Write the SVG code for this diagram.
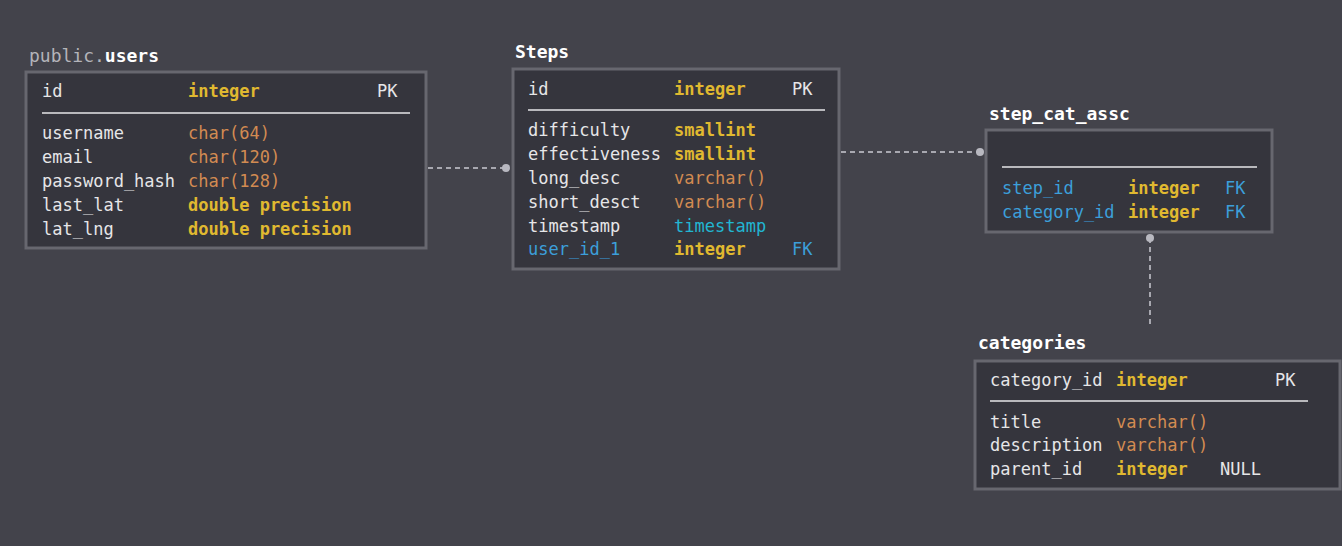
<svg xmlns="http://www.w3.org/2000/svg" width="1342" height="546" viewBox="0 0 1342 546">
<style>
text{font-family:"DejaVu Sans Mono","Liberation Mono",monospace;font-size:17px;fill:#e6e6e8}
.t{font-weight:bold;font-size:18px;fill:#ffffff}
.g{fill:#b4b4ba;font-weight:normal}
.y{fill:#e0b930;font-weight:bold}.o{fill:#d28b52}.c{fill:#22b6d2}.b{fill:#3c9fda}
.box{fill:#35353d;stroke:#67676f;stroke-width:3}
.sep{stroke:#e6e6e8;stroke-width:1.5}
.con{stroke:#a8a8b0;stroke-width:2;stroke-dasharray:5 4;fill:none}
.dot{fill:#b8b8c0}
</style>
<rect width="1342" height="546" fill="#43434b"/>
<g id="connectors">
<path class="con" d="M428 168H506"/><circle class="dot" cx="506" cy="168" r="4"/>
<path class="con" d="M841 152H980"/><circle class="dot" cx="980" cy="152" r="4"/>
<path class="con" d="M1150 238V325"/><circle class="dot" cx="1150" cy="238" r="4"/>
</g>
<g id="users">
<text x="29" y="62" class="t"><tspan class="g">public.</tspan>users</text>
<rect class="box" x="26" y="72" width="400" height="176"/>
<text x="42" y="97">id</text><text x="188" y="97" class="y">integer</text><text x="377" y="97">PK</text>
<line class="sep" x1="42" y1="113" x2="410" y2="113"/>
<text x="42" y="139">username</text><text x="188" y="139" class="o">char(64)</text>
<text x="42" y="163">email</text><text x="188" y="163" class="o">char(120)</text>
<text x="42" y="187">password_hash</text><text x="188" y="187" class="o">char(128)</text>
<text x="42" y="211">last_lat</text><text x="188" y="211" class="y">double precision</text>
<text x="42" y="235">lat_lng</text><text x="188" y="235" class="y">double precision</text>
</g>
<g id="steps">
<text x="515" y="58" class="t">Steps</text>
<rect class="box" x="513" y="69" width="326" height="200"/>
<text x="528" y="95">id</text><text x="674" y="95" class="y">integer</text><text x="792" y="95">PK</text>
<line class="sep" x1="528" y1="110" x2="825" y2="110"/>
<text x="528" y="136">difficulty</text><text x="674" y="136" class="y">smallint</text>
<text x="528" y="160">effectiveness</text><text x="674" y="160" class="y">smallint</text>
<text x="528" y="184">long_desc</text><text x="674" y="184" class="o">varchar()</text>
<text x="528" y="208">short_desct</text><text x="674" y="208" class="o">varchar()</text>
<text x="528" y="232">timestamp</text><text x="674" y="232" class="c">timestamp</text>
<text x="528" y="255" class="b">user_id_1</text><text x="674" y="255" class="y">integer</text><text x="792" y="255" class="b">FK</text>
</g>
<g id="step_cat_assc">
<text x="989" y="120" class="t">step_cat_assc</text>
<rect class="box" x="986" y="130" width="286" height="102"/>
<line class="sep" x1="1002" y1="167" x2="1257" y2="167"/>
<text x="1002" y="194" class="b">step_id</text><text x="1128" y="194" class="y">integer</text><text x="1225" y="194" class="b">FK</text>
<text x="1002" y="218" class="b">category_id</text><text x="1128" y="218" class="y">integer</text><text x="1225" y="218" class="b">FK</text>
</g>
<g id="categories">
<text x="978" y="349" class="t">categories</text>
<rect class="box" x="975" y="361" width="365" height="128"/>
<text x="990" y="386">category_id</text><text x="1116" y="386" class="y">integer</text><text x="1275" y="386">PK</text>
<line class="sep" x1="990" y1="401" x2="1308" y2="401"/>
<text x="990" y="428">title</text><text x="1116" y="428" class="o">varchar()</text>
<text x="990" y="451">description</text><text x="1116" y="451" class="o">varchar()</text>
<text x="990" y="475">parent_id</text><text x="1116" y="475" class="y">integer</text><text x="1220" y="475">NULL</text>
</g>
</svg>
